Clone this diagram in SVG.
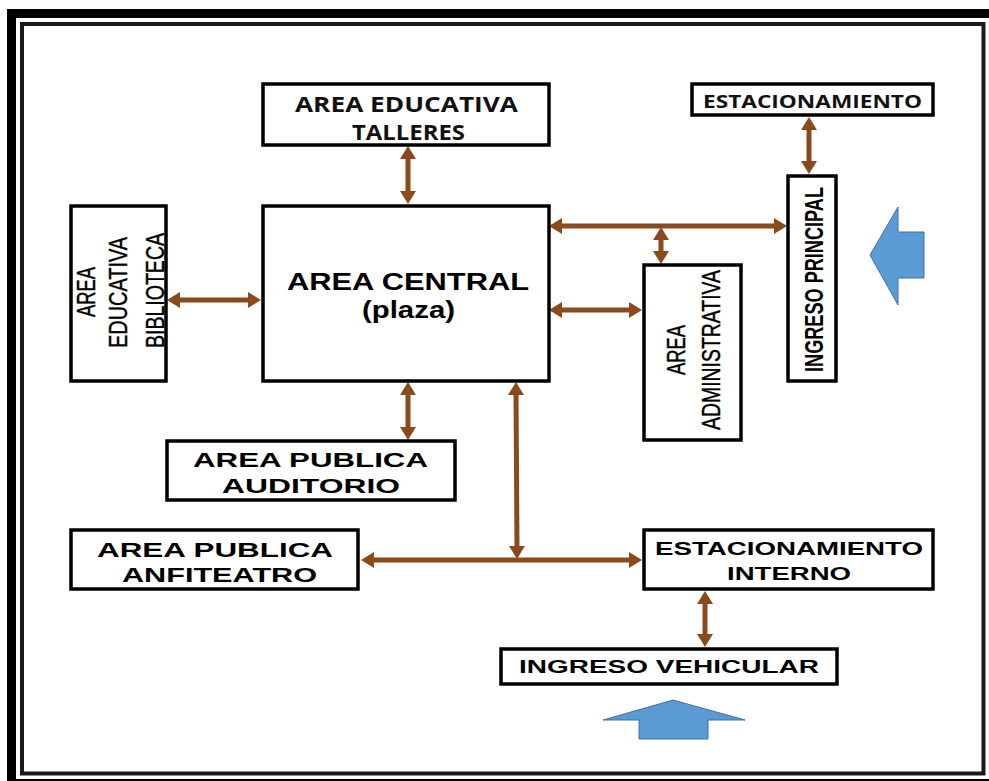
<svg xmlns="http://www.w3.org/2000/svg" width="989" height="781" viewBox="0 0 989 781">
<style>
.box{fill:#fff;stroke:#000;stroke-width:3.5}
.t{font-family:"Liberation Sans",Arial,sans-serif;font-weight:bold;fill:#000;text-anchor:middle}
.c{font-family:"Open Sans","Liberation Sans",sans-serif;font-weight:bold;fill:#111;text-anchor:middle}
.n{font-family:"Liberation Sans",Arial,sans-serif;fill:#000;stroke:#000;stroke-width:0.4;text-anchor:middle}
.con{stroke:#8B4A1C;stroke-width:5;fill:none;marker-start:url(#ah);marker-end:url(#ah)}
.blue{fill:#5B9BD5;stroke:#41719C;stroke-width:1}
</style>
<defs>
<marker id="ah" viewBox="0 0 13 16" refX="2" refY="8" markerWidth="13" markerHeight="16" markerUnits="userSpaceOnUse" orient="auto-start-reverse">
<path d="M0,0 L13,8 L0,16 z" fill="#8B4A1C"/>
</marker>
</defs>
<rect width="989" height="781" fill="#fff"/>
<g id="frame">
<path d="M11.5,790 V13.5 H1000" fill="none" stroke="#000" stroke-width="9"/>
<path d="M16,783.5 H1000" fill="none" stroke="#000" stroke-width="9"/>
<rect x="22" y="24" width="961.5" height="749.5" fill="none" stroke="#1a1a1a" stroke-width="4"/>
</g>
<g id="connectors">
<line class="con" x1="408" y1="157" x2="408" y2="193"/>
<line class="con" x1="178" y1="300" x2="250" y2="300"/>
<line class="con" x1="560" y1="226" x2="776" y2="226"/>
<line class="con" x1="661" y1="238" x2="661" y2="253"/>
<line class="con" x1="560" y1="310" x2="631" y2="310"/>
<line class="con" x1="809" y1="128" x2="809" y2="163"/>
<line class="con" x1="408" y1="393" x2="408" y2="429"/>
<line class="con" x1="516" y1="393" x2="517" y2="548"/>
<line class="con" x1="372" y1="560" x2="631" y2="560"/>
<line class="con" x1="705" y1="602" x2="705" y2="636"/>
</g>
<g id="talleres">
<rect class="box" x="263" y="84" width="286" height="61"/>
<text class="c" x="406.5" y="112" font-size="22" textLength="223" lengthAdjust="spacingAndGlyphs">AREA EDUCATIVA</text>
<text class="c" x="408.5" y="140" font-size="22" textLength="113" lengthAdjust="spacingAndGlyphs">TALLERES</text>
</g>
<g id="estacionamiento">
<rect class="box" x="692" y="84" width="241" height="31"/>
<text class="c" x="812.5" y="108" font-size="17" textLength="219" lengthAdjust="spacingAndGlyphs">ESTACIONAMIENTO</text>
</g>
<g id="biblioteca">
<rect class="box" x="71" y="206" width="95" height="175"/>
<text class="n" transform="translate(95,292) rotate(-90)" font-size="25" textLength="50" lengthAdjust="spacingAndGlyphs">AREA</text>
<text class="n" transform="translate(127,292.5) rotate(-90)" font-size="25" textLength="111" lengthAdjust="spacingAndGlyphs">EDUCATIVA</text>
<text class="n" transform="translate(164,290.5) rotate(-90)" font-size="25" textLength="115" lengthAdjust="spacingAndGlyphs">BIBLIOTECA</text>
</g>
<g id="central">
<rect class="box" x="263" y="206" width="286" height="175"/>
<text class="t" x="408" y="290" font-size="24" textLength="242" lengthAdjust="spacingAndGlyphs">AREA CENTRAL</text>
<text class="t" x="408.5" y="318" font-size="23" textLength="93" lengthAdjust="spacingAndGlyphs">(plaza)</text>
</g>
<g id="administrativa">
<rect class="box" x="644" y="265" width="97" height="175"/>
<text class="n" transform="translate(685,350) rotate(-90)" font-size="25" textLength="50" lengthAdjust="spacingAndGlyphs">AREA</text>
<text class="n" transform="translate(720,350) rotate(-90)" font-size="25" textLength="160" lengthAdjust="spacingAndGlyphs">ADMINISTRATIVA</text>
</g>
<g id="ingreso-principal">
<rect class="box" x="788" y="176" width="48" height="205"/>
<text class="t" transform="translate(823,279.5) rotate(-90)" font-size="26" textLength="185" lengthAdjust="spacingAndGlyphs">INGRESO PRINCIPAL</text>
</g>
<g id="arrow-right">
<polygon class="blue" points="870,255 898,207 898,232 924,232 924,278 898,278 898,305"/>
</g>
<g id="auditorio">
<rect class="box" x="167" y="441" width="288" height="59"/>
<text class="t" x="310.5" y="467" font-size="21" textLength="235" lengthAdjust="spacingAndGlyphs">AREA PUBLICA</text>
<text class="t" x="311" y="493" font-size="21" textLength="178" lengthAdjust="spacingAndGlyphs">AUDITORIO</text>
</g>
<g id="anfiteatro">
<rect class="box" x="71" y="530" width="287" height="59"/>
<text class="t" x="215" y="557" font-size="21" textLength="236" lengthAdjust="spacingAndGlyphs">AREA PUBLICA</text>
<text class="t" x="219.5" y="582" font-size="21" textLength="195" lengthAdjust="spacingAndGlyphs">ANFITEATRO</text>
</g>
<g id="estacionamiento-interno">
<rect class="box" x="644" y="530" width="289" height="59"/>
<text class="t" x="789" y="555" font-size="18" textLength="268" lengthAdjust="spacingAndGlyphs">ESTACIONAMIENTO</text>
<text class="t" x="789" y="580" font-size="18" textLength="124" lengthAdjust="spacingAndGlyphs">INTERNO</text>
</g>
<g id="ingreso-vehicular">
<rect class="box" x="501" y="649" width="336" height="35"/>
<text class="t" x="669" y="673" font-size="18" textLength="300" lengthAdjust="spacingAndGlyphs">INGRESO  VEHICULAR</text>
</g>
<g id="arrow-up">
<polygon class="blue" points="673,700 745,720 708,720 708,739 639,739 639,720 603,720"/>
</g>
</svg>
